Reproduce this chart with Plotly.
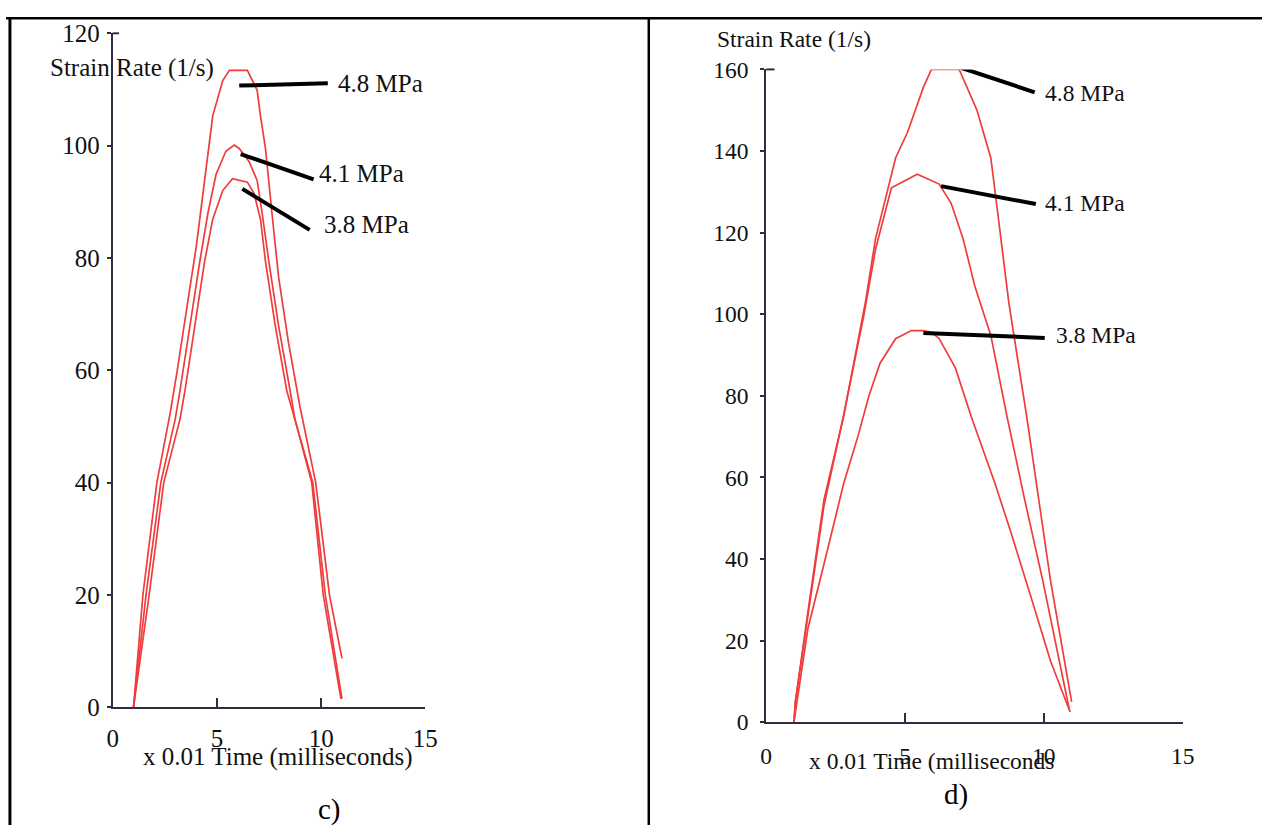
import plotly.graph_objects as go

# ---------------- data (panel c) ----------------
c_48_x = [1.0, 1.45, 2.12, 2.76, 3.07, 3.54, 4.02, 4.41, 4.8, 5.28, 5.6, 6.46, 6.93, 7.09, 7.33, 7.64, 7.96, 8.43, 8.98, 9.74, 10.4, 11.0]
c_48_y = [0, 20, 40, 52.4, 59.3, 70.8, 82.3, 93.8, 105.3, 111.6, 113.4, 113.4, 109.9, 105.3, 99.5, 88, 76.6, 65, 53.6, 40, 20, 8.7]
c_41_x = [1.0, 1.6, 2.31, 3.0, 3.23, 3.7, 4.18, 4.57, 4.96, 5.43, 5.83, 6.07, 6.54, 6.93, 7.17, 7.49, 7.96, 8.51, 8.74, 9.55, 10.1, 10.95]
c_41_y = [0, 20, 40, 51.3, 56.4, 67.9, 79.4, 88, 94.9, 99, 100.1, 99.5, 97.2, 93.8, 88, 79.4, 67.9, 56.4, 51.3, 40, 20, 1.5]
c_38_x = [1.0, 1.75, 2.45, 3.23, 3.47, 3.94, 4.41, 4.8, 5.28, 5.75, 6.46, 6.78, 7.09, 7.33, 7.8, 8.35, 8.74, 9.6, 10.2, 11.0]
c_38_y = [0, 20, 40, 51.3, 56.4, 67.9, 79.4, 86.9, 92, 94.1, 93.5, 91.5, 86.9, 79.4, 67.9, 56.4, 51.3, 40, 20, 1.5]

# ---------------- data (panel d) ----------------
d_48_x = [1.0, 1.05, 1.5, 2.08, 2.79, 3.58, 3.94, 4.66, 5.09, 5.66, 5.95, 6.95, 7.59, 8.09, 8.31, 8.74, 9.38, 9.81, 10.24, 11.0]
d_48_y = [0, 5, 26.9, 54.5, 75, 103.2, 118.6, 138.3, 144.6, 155.6, 160, 160, 150, 138.3, 126.4, 102.7, 75, 54.5, 34.7, 5]
d_41_x = [1.0, 1.05, 1.5, 2.08, 2.75, 3.51, 3.94, 4.51, 5.44, 5.87, 6.23, 6.66, 7.09, 7.52, 8.09, 8.67, 9.31, 9.96, 10.82, 10.92]
d_41_y = [0, 5, 26, 53, 74, 99.5, 116, 131, 134.3, 133.1, 131.9, 127.2, 118.5, 106.7, 94.8, 75, 54.5, 34.7, 5.5, 3.0]
d_38_x = [1.0, 1.5, 2.08, 2.79, 3.3, 3.7, 4.1, 4.66, 5.23, 5.66, 5.95, 6.23, 6.81, 7.38, 8.24, 8.81, 9.53, 10.24, 10.82, 10.95]
d_38_y = [0, 22.9, 38.7, 58.5, 70, 80, 88, 94, 96, 96, 95.6, 94, 86.9, 75, 58.5, 46.6, 30.8, 15, 4.7, 2.5]

# leader lines and labels
labels = ["4.8 MPa", "4.1 MPa", "3.8 MPa"]
c_lead_x = [[6.07, 10.32], [6.14, 9.64], [6.22, 9.45]]
c_lead_y = [[110.7, 111.1], [98.5, 94.0], [92.3, 85.0]]
c_lab_x = [10.7, 9.78, 10.03]
c_lab_y = [111.1, 95.1, 86.0]
d_lead_x = [[7.02, 9.67], [6.30, 9.71], [5.66, 10.03]]
d_lead_y = [[160.4, 154.4], [131.4, 127.0], [95.4, 94.2]]
d_lab_x = [9.96, 9.96, 10.36]
d_lab_y = [154.1, 127.2, 94.8]

c_yticks = [0, 20, 40, 60, 80, 100, 120]
d_yticks = [0, 20, 40, 60, 80, 100, 120, 140, 160]
xticks = [0, 5, 10, 15]

W, H = 1275, 839
FONT = "Liberation Serif, Times New Roman, serif"
RED = "#f03c3c"
AX = "#2e2e3e"

fig = go.Figure()
for xs, ys in [(c_48_x, c_48_y), (c_41_x, c_41_y), (c_38_x, c_38_y)]:
    fig.add_trace(go.Scatter(x=xs, y=ys, mode="lines", line=dict(color=RED, width=1.7),
                             xaxis="x", yaxis="y", showlegend=False, hoverinfo="skip"))
for xs, ys in [(d_48_x, d_48_y), (d_41_x, d_41_y), (d_38_x, d_38_y)]:
    fig.add_trace(go.Scatter(x=xs, y=ys, mode="lines", line=dict(color=RED, width=1.7),
                             xaxis="x2", yaxis="y2", showlegend=False, hoverinfo="skip"))
for lx, ly in zip(c_lead_x, c_lead_y):
    fig.add_trace(go.Scatter(x=lx, y=ly, mode="lines", line=dict(color="black", width=4),
                             xaxis="x", yaxis="y", showlegend=False, hoverinfo="skip"))
for lx, ly in zip(d_lead_x, d_lead_y):
    fig.add_trace(go.Scatter(x=lx, y=ly, mode="lines", line=dict(color="black", width=4),
                             xaxis="x2", yaxis="y2", showlegend=False, hoverinfo="skip"))


def px(v):
    return v / W


def py(v):
    return 1 - v / H


ann = []
for t, x, y in zip(labels, c_lab_x, c_lab_y):
    ann.append(dict(text=t, x=x, y=y, xref="x", yref="y", xanchor="left", yanchor="middle",
                    showarrow=False, font=dict(family=FONT, size=25, color="#111")))
for t, x, y in zip(labels, d_lab_x, d_lab_y):
    ann.append(dict(text=t, x=x, y=y, xref="x2", yref="y2", xanchor="left", yanchor="middle",
                    showarrow=False, font=dict(family=FONT, size=23.5, color="#111")))
# axis titles and captions
ann += [
    dict(text="Strain Rate (1/s)", x=px(43), y=py(57), xref="paper", yref="paper", xanchor="left",
         yanchor="middle", showarrow=False, font=dict(family=FONT, size=25, color="#111")),
    dict(text="Strain Rate (1/s)", x=px(720), y=py(27), xref="paper", yref="paper", xanchor="left",
         yanchor="middle", showarrow=False, font=dict(family=FONT, size=23.5, color="#111")),
    dict(text="x 0.01 Time (milliseconds)", x=px(137), y=py(769), xref="paper", yref="paper",
         xanchor="left", yanchor="middle", showarrow=False, font=dict(family=FONT, size=25, color="#111")),
    dict(text="x 0.01 Time (milliseconds", x=px(813), y=py(773), xref="paper", yref="paper",
         xanchor="left", yanchor="middle", showarrow=False, font=dict(family=FONT, size=23.5, color="#111")),
    dict(text="c)", x=px(328.6), y=py(823), xref="paper", yref="paper", xanchor="center",
         yanchor="middle", showarrow=False, font=dict(family=FONT, size=29, color="black")),
    dict(text="d)", x=px(964), y=py(808), xref="paper", yref="paper", xanchor="center",
         yanchor="middle", showarrow=False, font=dict(family=FONT, size=29, color="black")),
]

shapes = [
    # table borders
    dict(type="line", xref="paper", yref="paper", x0=0, x1=1, y0=py(5.5), y1=py(5.5),
         line=dict(color="black", width=2.5)),
    dict(type="line", xref="paper", yref="paper", x0=px(4), x1=px(4), y0=py(5.5), y1=0,
         line=dict(color="black", width=3)),
    dict(type="line", xref="paper", yref="paper", x0=px(652.5), x1=px(652.5), y0=py(5.5), y1=0,
         line=dict(color="black", width=2.5)),
    # top inward tick stubs on y axes
    dict(type="line", xref="x domain", yref="y domain", x0=0, x1=0.02, y0=1, y1=1,
         line=dict(color=AX, width=2)),
    dict(type="line", xref="x2 domain", yref="y2 domain", x0=0, x1=0.02, y0=1, y1=1,
         line=dict(color=AX, width=2)),
]

common_x = dict(range=[0, 15], tickvals=xticks, ticks="inside", ticklen=9, tickwidth=2,
                tickcolor=AX, showline=True, linecolor=AX, linewidth=2, showgrid=False,
                zeroline=False, fixedrange=True)
common_y = dict(ticks="outside", ticklen=4, tickwidth=1.5, tickcolor=AX, showline=True,
                linecolor=AX, linewidth=2, showgrid=False, zeroline=False, fixedrange=True)

fig.update_layout(
    width=W, height=H, margin=dict(l=0, r=0, t=0, b=0), autosize=False,
    paper_bgcolor="white", plot_bgcolor="white", showlegend=False,
    xaxis=dict(domain=[px(108.3), px(425.7)], anchor="y", ticklabelstandoff=8,
               tickfont=dict(family=FONT, size=25, color="#111"), **common_x),
    yaxis=dict(domain=[py(717.3), py(21)], anchor="x", range=[0, 120], tickvals=c_yticks,
               ticklabelstandoff=2, tickfont=dict(family=FONT, size=25, color="#111"), **common_y),
    xaxis2=dict(domain=[px(771.7), px(1194.5)], anchor="y2", ticklabelstandoff=12,
                tickfont=dict(family=FONT, size=23.5, color="#111"), **common_x),
    yaxis2=dict(domain=[py(732.8), py(58.3)], anchor="x2", range=[0, 160], tickvals=d_yticks,
                ticklabelstandoff=7, tickfont=dict(family=FONT, size=23.5, color="#111"), **common_y),
    annotations=ann, shapes=shapes,
)

fig.write_html("out.html", config={"displayModeBar": False},
               post_script="document.body.style.margin='0';document.body.style.overflow='hidden';")
